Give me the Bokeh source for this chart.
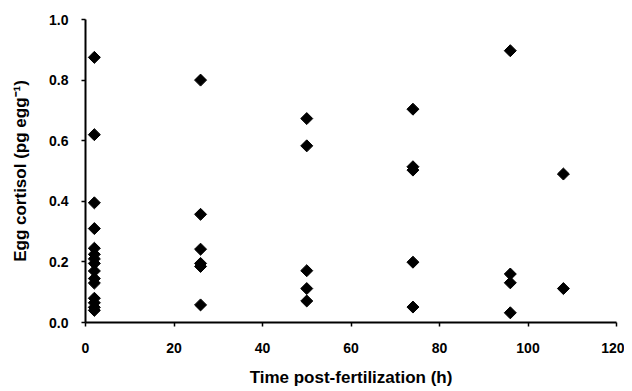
import math
from bokeh.plotting import figure
from bokeh.models import Range1d, FixedTicker, PrintfTickFormatter
from bokeh.embed import file_html
from bokeh.resources import INLINE

# Data
time_h = [2]*15 + [26]*6 + [50]*5 + [74]*5 + [96]*4 + [108]*2
cortisol = [0.875, 0.62, 0.395, 0.31, 0.245, 0.225, 0.21, 0.195, 0.17, 0.145, 0.13, 0.08, 0.065, 0.05, 0.04,
            0.80, 0.357, 0.242, 0.195, 0.185, 0.058,
            0.673, 0.583, 0.171, 0.112, 0.071,
            0.704, 0.514, 0.503, 0.199, 0.051,
            0.897, 0.16, 0.131, 0.032,
            0.49, 0.112]
x_ticks = [0, 20, 40, 60, 80, 100, 120]
y_ticks = [0.0, 0.2, 0.4, 0.6, 0.8, 1.0]

FONT = "Liberation Sans"

p = figure(frame_width=531, frame_height=303, output_backend="svg", toolbar_location=None,
           x_range=Range1d(0, 120), y_range=Range1d(0, 1.0),
           min_border_left=85, min_border_top=19, min_border_right=8, min_border_bottom=60)
p.outline_line_color = None
p.xgrid.visible = False
p.ygrid.visible = False
p.background_fill_color = "white"
p.border_fill_color = "white"

p.scatter(time_h, cortisol, marker="square", angle=math.pi / 4, size=8.5, color="black")

for ax in (p.xaxis[0], p.yaxis[0]):
    ax.axis_line_width = 2
    ax.axis_line_color = "black"
    ax.major_tick_line_width = 1.5
    ax.major_tick_in = 0
    ax.major_tick_out = 4
    ax.minor_tick_in = 0
    ax.minor_tick_out = 0
    ax.major_label_text_font = FONT
    ax.major_label_text_font_style = "bold"
    ax.major_label_text_font_size = "14px"
    ax.major_label_text_color = "black"
    ax.axis_label_text_font = FONT
    ax.axis_label_text_font_style = "bold"
    ax.axis_label_text_font_size = "17px"
    ax.axis_label_text_color = "black"

p.xaxis[0].ticker = FixedTicker(ticks=x_ticks)
p.yaxis[0].ticker = FixedTicker(ticks=y_ticks)
p.yaxis[0].formatter = PrintfTickFormatter(format="%.1f")
p.xaxis[0].major_label_standoff = 16
p.yaxis[0].major_label_standoff = 13
p.xaxis[0].axis_label = "Time post-fertilization (h)"
p.yaxis[0].axis_label = "Egg cortisol (pg egg\u207b\u00b9)"
p.xaxis[0].axis_label_standoff = 12
p.yaxis[0].axis_label_standoff = 16

open("out.html", "w").write(file_html(p, INLINE))
